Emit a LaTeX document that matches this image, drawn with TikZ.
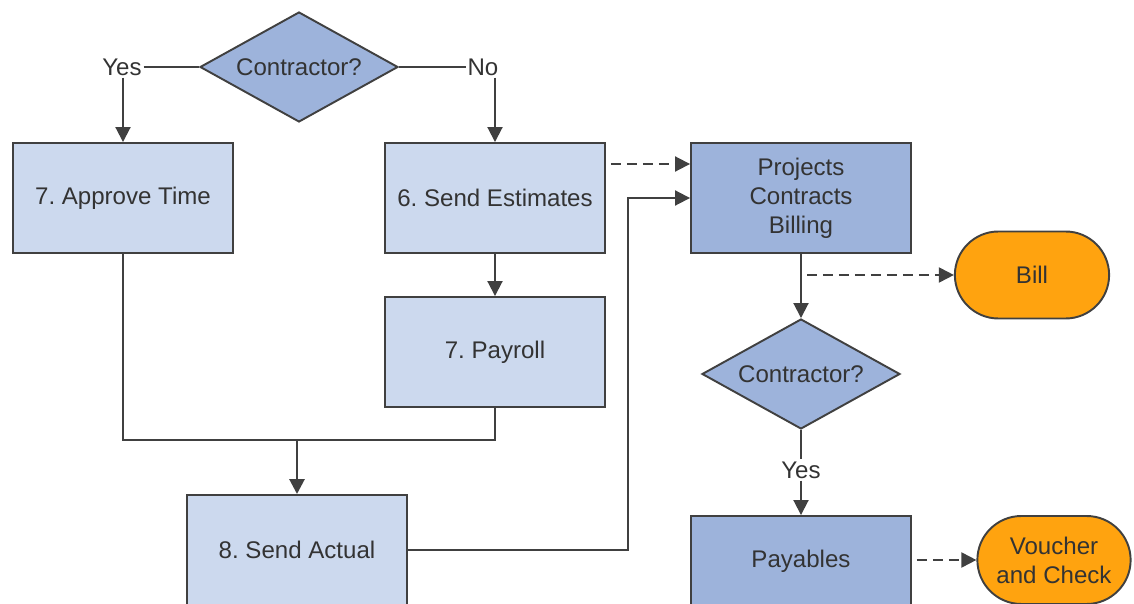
\documentclass[tikz,border=0pt]{standalone}
\usepackage{fontspec}
\setmainfont{Liberation Sans}
\frenchspacing
\usetikzlibrary{shapes.geometric,shapes.misc,arrows.meta}
\definecolor{lightbox}{HTML}{CCD9EE}
\definecolor{darkbox}{HTML}{9DB3DB}
\definecolor{termfill}{HTML}{FFA30F}
\definecolor{edge}{HTML}{404040}
\definecolor{ink}{HTML}{333333}
\begin{document}
\begin{tikzpicture}[x=0.02cm,y=-0.02cm,
    font=\fontsize{13.7}{16.5}\selectfont, text=ink,
    stepbox/.style={draw=edge,line width=1.1pt,rectangle,minimum width=4.4cm,minimum height=2.2cm,align=center,fill=lightbox},
    sysbox/.style={stepbox,fill=darkbox},
    ask/.style={draw=edge,line width=1.1pt,diamond,aspect=1.8,inner sep=0pt,minimum width=3.96cm,minimum height=2.2cm,fill=darkbox},
    term/.style={draw=edge,line width=1.1pt,rounded rectangle,minimum width=3.32cm,minimum height=1.74cm,align=center,fill=termfill},
    answer/.style={inner sep=1pt},
    link/.style={draw=edge,line width=1.1pt},
    arr/.style={link,-{Triangle[length=0.3cm,width=0.3cm]}},
    dasharr/.style={arr,dash pattern=on 0.2cm off 0.12cm}]
  \useasboundingbox (0,0) rectangle (1134,604);

  \node[ask] (d1) at (299,67) {Contractor?};
  \node[answer] (yes1) at (122,67) {Yes};
  \node[answer] (no1) at (483,67) {No};
  \node[stepbox] (approve) at (123,198) {7. Approve Time};
  \node[stepbox] (estimates) at (495,198) {6. Send Estimates};
  \node[stepbox] (payroll) at (495,352) {7. Payroll};
  \node[stepbox] (actual) at (297,550) {8. Send Actual};
  \node[sysbox] (pcb) at (801,198) {Projects\\Contracts\\Billing};
  \node[term] (bill) at (1032,275) {Bill};
  \node[ask] (d2) at (801,374) {Contractor?};
  \node[answer] (yes2) at (801,470) {Yes};
  \node[sysbox,minimum height=1.8cm] (payables) at (801,561) {Payables};
  \node[term,minimum width=3.3cm,minimum height=1.76cm] (voucher) at (1054,560) {Voucher\\and Check};
  \coordinate (merge) at (297,440);
  \coordinate (turn) at (628,370);

  \draw[link] (yes1) -- (d1);
  \draw[link] (d1) -- (no1);
  \draw[arr] (approve.north |- yes1.south) -- (approve.north);
  \draw[arr] (estimates.north |- no1.south) -- (estimates.north);
  \draw[arr] (estimates) -- (payroll);
  \draw[link] (approve.south) |- (merge) -| (payroll.south);
  \draw[arr,line width=1.6pt] (merge) -- (merge |- actual.north);
  \draw[arr] (actual.east) -| (turn) |- (pcb.west);
  \draw[dasharr] ([yshift=0.68cm,xshift=0.1cm]estimates.east) -- ([yshift=0.68cm]pcb.west);
  \draw[arr] (pcb) -- (d2);
  \draw[dasharr] ([xshift=0.12cm]pcb.south |- bill.west) -- (bill.west);
  \draw[link] (d2) -- (yes2);
  \draw[arr] (yes2) -- (payables);
  \draw[dasharr] ([xshift=0.1cm]payables.east |- voucher.west) -- (voucher.west);
\end{tikzpicture}
\end{document}
